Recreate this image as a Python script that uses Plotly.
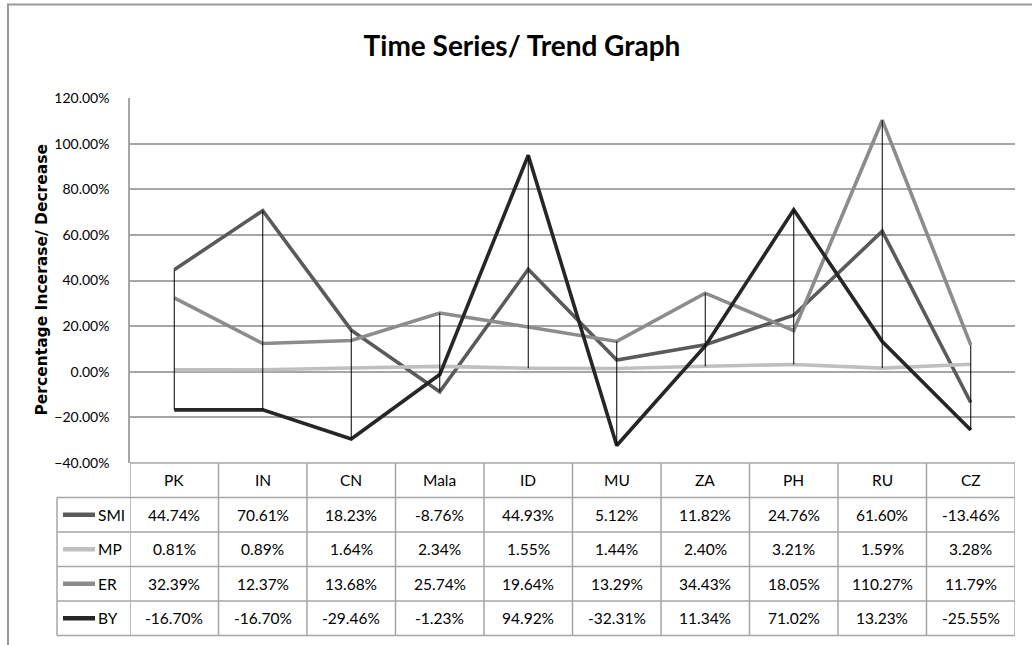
import plotly.graph_objects as go

categories = ["PK", "IN", "CN", "Mala", "ID", "MU", "ZA", "PH", "RU", "CZ"]
smi = [44.74, 70.61, 18.23, -8.76, 44.93, 5.12, 11.82, 24.76, 61.60, -13.46]
mp = [0.81, 0.89, 1.64, 2.34, 1.55, 1.44, 2.40, 3.21, 1.59, 3.28]
er = [32.39, 12.37, 13.68, 25.74, 19.64, 13.29, 34.43, 18.05, 110.27, 11.79]
by = [-16.70, -16.70, -29.46, -1.23, 94.92, -32.31, 11.34, 71.02, 13.23, -25.55]

series_names = ["SMI", "MP", "ER", "BY"]
series_values = [smi, mp, er, by]
series_colors = ["#5a5a5a", "#bfbfbf", "#8c8c8c", "#262626"]

W, H = 1032, 645
L, R, T, B = 130, 17, 98, 182
plot_w = W - L - R
plot_h = H - T - B

def px_x(px):
    return (px - L) / plot_w

def px_y(py):
    return (H - B - py) / plot_h

FONT = "Lato"
GRID = "#a6a6a6"
n = len(categories)
xs = list(range(n))

fig = go.Figure()

for name, vals, col in zip(series_names, series_values, series_colors):
    fig.add_trace(go.Scatter(x=xs, y=vals, mode="lines", name=name,
                             line=dict(color=col, width=3.6), showlegend=False))

# high-low lines
hx, hy = [], []
for i in xs:
    col_vals = [s[i] for s in series_values]
    hx += [i, i, None]
    hy += [max(col_vals), min(col_vals), None]
fig.add_trace(go.Scatter(x=hx, y=hy, mode="lines", line=dict(color="black", width=1),
                         showlegend=False, hoverinfo="skip"))

shapes = []
annotations = []

row_h = 34.5 / plot_h
left_tab = px_x(57)
shapes.append(dict(type="line", xref="paper", yref="paper", x0=0, x1=1, y0=0, y1=0,
                   line=dict(color=GRID, width=1.5)))
for r in range(1, len(series_names) + 2):
    shapes.append(dict(type="line", xref="paper", yref="paper", x0=left_tab, x1=1,
                       y0=-r * row_h, y1=-r * row_h, line=dict(color=GRID, width=1.5)))
bottom = -(len(series_names) + 1) * row_h
shapes.append(dict(type="line", xref="paper", yref="paper", x0=left_tab, x1=left_tab,
                   y0=-row_h, y1=bottom, line=dict(color=GRID, width=1.5)))
for i in range(n + 1):
    shapes.append(dict(type="line", xref="x", yref="paper", x0=i - 0.5, x1=i - 0.5,
                       y0=0, y1=bottom, line=dict(color=GRID, width=1.5)))

tfont = dict(family=FONT, size=15.5, color="black")
for i, c in enumerate(categories):
    annotations.append(dict(x=i, y=-0.5 * row_h, xref="x", yref="paper", text=c,
                            showarrow=False, font=tfont,
                            xanchor="center", yanchor="middle"))
for r, (name, vals, col) in enumerate(zip(series_names, series_values, series_colors)):
    yc = -(r + 1.5) * row_h
    shapes.append(dict(type="line", xref="paper", yref="paper", x0=px_x(63), x1=px_x(95),
                       y0=yc, y1=yc, line=dict(color=col, width=4.5)))
    annotations.append(dict(x=px_x(96), y=yc, xref="paper", yref="paper", text=name,
                            showarrow=False, font=tfont,
                            xanchor="left", yanchor="middle"))
    for i, v in enumerate(vals):
        annotations.append(dict(x=i, y=yc, xref="x", yref="paper", text=f"{v:.2f}%",
                                showarrow=False, font=tfont,
                                xanchor="center", yanchor="middle"))

# outer chart border
shapes.append(dict(type="rect", xref="paper", yref="paper", x0=px_x(8), x1=px_x(1060),
                   y0=px_y(680), y1=px_y(4.5), line=dict(color="#9a9a9a", width=2),
                   fillcolor="rgba(0,0,0,0)", layer="below"))

# y axis title
annotations.append(dict(x=px_x(41), y=0.5, xref="paper", yref="paper",
                        text="<b>Percentage Incerase/ Decrease</b>", textangle=-90,
                        showarrow=False, font=dict(family="DejaVu Sans", size=15.5, color="black"),
                        xanchor="center", yanchor="middle"))

fig.update_layout(
    width=W, height=H,
    margin=dict(l=L, r=R, t=T, b=B, pad=0),
    paper_bgcolor="white", plot_bgcolor="white",
    title=dict(text="<b>Time Series/ Trend Graph</b>", x=522 / W, xanchor="center",
               y=1 - 46 / H, yanchor="middle", xref="container", yref="container",
               font=dict(family=FONT, size=28, color="black")),
    xaxis=dict(range=[-0.5, n - 0.5], showgrid=False, zeroline=False, showticklabels=False,
               ticks="", showline=False, fixedrange=True),
    yaxis=dict(range=[-40, 120], dtick=20, tick0=0, tickformat=".2f", ticksuffix="%",
               showgrid=True, gridcolor=GRID, gridwidth=1.5, zeroline=False,
               showline=True, linecolor=GRID, linewidth=1.5, ticks="",
               ticklabelstandoff=16,
               tickfont=dict(family=FONT, size=14, color="black")),
    shapes=shapes, annotations=annotations,
)

fig.write_html("out.html", config={"displayModeBar": False},
               post_script="document.body.style.margin='0';document.body.style.overflow='hidden';")
